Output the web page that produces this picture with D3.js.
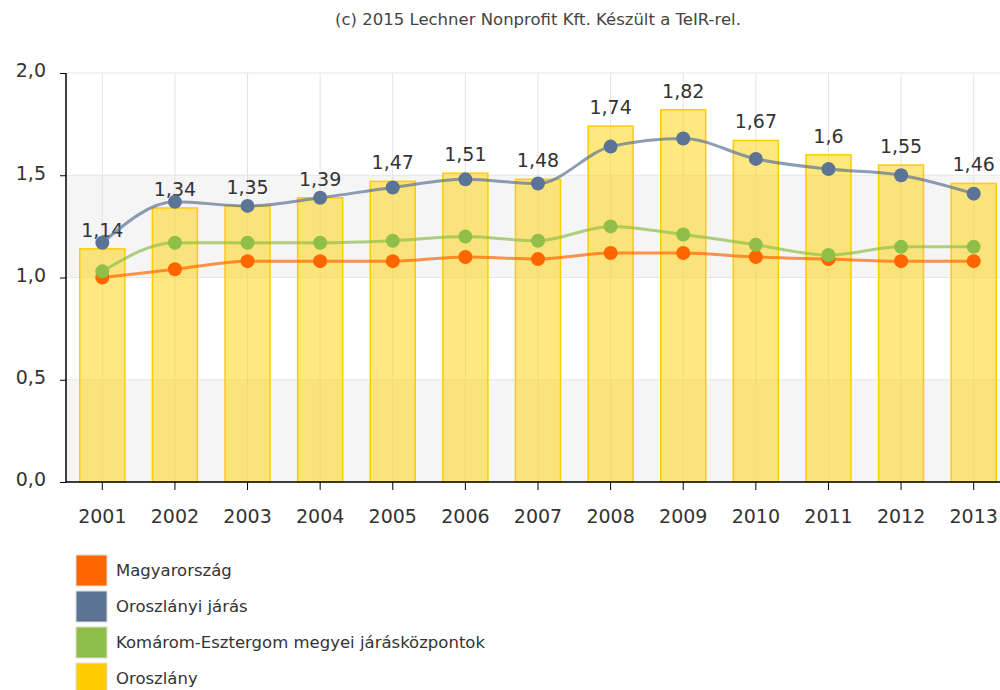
<!DOCTYPE html>
<html>
<head>
<meta charset="utf-8">
<script src="https://cdn.jsdelivr.net/npm/d3@7"></script>
<style>
  body { margin: 0; background: #fff; }
  text { font-family: "DejaVu Sans", Verdana, sans-serif; fill: #333; }
</style>
</head>
<body>
<svg id="chart" width="1000" height="690"></svg>
<script>
var years = ["2001","2002","2003","2004","2005","2006","2007","2008","2009","2010","2011","2012","2013"];
var oroszlany = [1.14, 1.34, 1.35, 1.39, 1.47, 1.51, 1.48, 1.74, 1.82, 1.67, 1.6, 1.55, 1.46];
var magyarorszag = [1.00, 1.04, 1.08, 1.08, 1.08, 1.10, 1.09, 1.12, 1.12, 1.10, 1.09, 1.08, 1.08];
var jaras = [1.17, 1.37, 1.35, 1.39, 1.44, 1.48, 1.46, 1.64, 1.68, 1.58, 1.53, 1.50, 1.41];
var megyei = [1.03, 1.17, 1.17, 1.17, 1.18, 1.20, 1.18, 1.25, 1.21, 1.16, 1.11, 1.15, 1.15];
var yTicks = [0, 0.5, 1.0, 1.5, 2.0];

var legendItems = [
  {name: "Magyarország", color: "#ff6600"},
  {name: "Oroszlányi járás", color: "#5b7495"},
  {name: "Komárom-Esztergom megyei járásközpontok", color: "#8fbf48"},
  {name: "Oroszlány", color: "#ffcc00"}
];

var svg = d3.select("#chart");
var plotLeft = 66, plotRight = 1010, plotTop = 73, plotBottom = 482;

var x = d3.scaleBand().domain(years).range([plotLeft, plotRight]).paddingInner(0.38).paddingOuter(0.19);
var xc = function(d) { return x(d) + x.bandwidth() / 2; };
var y = d3.scaleLinear().domain([0, 2]).range([plotBottom, plotTop]);
var fmt = function(v) { return String(v).replace(".", ","); };

// title
svg.append("text")
  .attr("x", (plotLeft + plotRight) / 2).attr("y", 25)
  .attr("text-anchor", "middle")
  .style("font-size", "16.5px")
  .style("fill", "#444")
  .text("(c) 2015 Lechner Nonprofit Kft. Készült a TeIR-rel.");

// alternating bands
var bands = svg.append("g");
[[0, 0.5], [1.0, 1.5]].forEach(function(b) {
  bands.append("rect")
    .attr("x", plotLeft).attr("width", plotRight - plotLeft)
    .attr("y", y(b[1])).attr("height", y(b[0]) - y(b[1]))
    .attr("fill", "#f5f5f5");
});

// grid
var grid = svg.append("g");
grid.selectAll(".hg").data(yTicks).enter().append("line")
  .attr("x1", plotLeft).attr("x2", plotRight)
  .attr("y1", function(d) { return y(d); }).attr("y2", function(d) { return y(d); })
  .attr("stroke", "#e6e6e6");
grid.selectAll(".vg").data(years).enter().append("line")
  .attr("x1", xc).attr("x2", xc)
  .attr("y1", plotTop).attr("y2", plotBottom)
  .attr("stroke", "#e3e3e3");

// bars
svg.append("g").selectAll("rect").data(years).enter().append("rect")
  .attr("x", function(d) { return x(d); })
  .attr("width", x.bandwidth())
  .attr("y", function(d, i) { return y(oroszlany[i]); })
  .attr("height", function(d, i) { return plotBottom - y(oroszlany[i]); })
  .attr("fill", "#ffd200")
  .attr("fill-opacity", 0.5)
  .attr("stroke", "#ffcc00")
  .attr("stroke-width", 1.5);

// bar labels
svg.append("g").selectAll("text").data(years).enter().append("text")
  .attr("x", xc)
  .attr("y", function(d, i) { return y(oroszlany[i]) - 12; })
  .attr("text-anchor", "middle")
  .style("font-size", "19px")
  .style("fill", "#333")
  .text(function(d, i) { return fmt(oroszlany[i]); });

// lines
var seriesList = [
  {values: magyarorszag, color: "#ff6600"},
  {values: megyei, color: "#8fbf48"},
  {values: jaras, color: "#5b7495"}
];
var line = d3.line()
  .x(function(d, i) { return xc(years[i]); })
  .y(function(d) { return y(d); })
  .curve(d3.curveMonotoneX);

seriesList.forEach(function(s) {
  var g = svg.append("g");
  g.append("path")
    .datum(s.values)
    .attr("d", line)
    .attr("fill", "none")
    .attr("stroke", s.color)
    .attr("stroke-opacity", 0.7)
    .attr("stroke-width", 3);
  g.selectAll("circle").data(s.values).enter().append("circle")
    .attr("cx", function(d, i) { return xc(years[i]); })
    .attr("cy", function(d) { return y(d); })
    .attr("r", 7)
    .attr("fill", s.color);
});

// axes
var yAxis = svg.append("g")
  .attr("transform", "translate(" + plotLeft + ",0)")
  .call(d3.axisLeft(y).tickValues(yTicks).tickSize(6).tickPadding(14)
    .tickFormat(function(d) { return d3.format(".1f")(d).replace(".", ","); }));
yAxis.select(".domain").attr("stroke", "#000").attr("stroke-width", 1.5).attr("d", "M0," + plotTop + "V" + plotBottom);
yAxis.selectAll("text").style("font-size", "19px").style("fill", "#333").attr("dy", "0.2em");

var xAxis = svg.append("g")
  .attr("transform", "translate(0," + plotBottom + ")")
  .call(d3.axisBottom(x).tickSize(8).tickPadding(20));
xAxis.select(".domain").attr("stroke", "#000").attr("stroke-width", 1.5).attr("d", "M" + plotLeft + ",0H" + plotRight);
xAxis.selectAll("text").style("font-size", "19px").style("fill", "#333");

// legend
var legend = svg.append("g").attr("transform", "translate(76,555)");
var li = legend.selectAll("g").data(legendItems).enter().append("g")
  .attr("transform", function(d, i) { return "translate(0," + (i * 36) + ")"; });
li.append("rect")
  .attr("width", 31).attr("height", 31)
  .attr("fill", function(d) { return d.color; })
  .attr("stroke", "#ddd");
li.append("text")
  .attr("x", 40).attr("y", 21)
  .style("font-size", "16.5px")
  .style("fill", "#333")
  .text(function(d) { return d.name; });
</script>
</body>
</html>
